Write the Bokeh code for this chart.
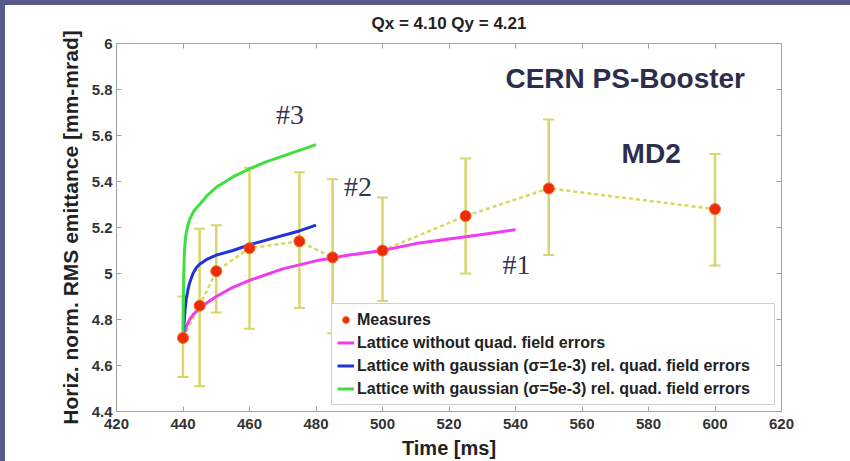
from bokeh.plotting import figure
from bokeh.models import (LinearAxis, FixedTicker, CustomJSTickFormatter, Whisker,
                          ColumnDataSource, Legend, LegendItem, TeeHead, Range1d, Label)
from bokeh.embed import file_html
from bokeh.resources import INLINE

# ---------------- data ----------------
title_text = "Qx = 4.10 Qy = 4.21"
x_ticks = [420, 440, 460, 480, 500, 520, 540, 560, 580, 600, 620]
y_ticks = [4.4, 4.6, 4.8, 5.0, 5.2, 5.4, 5.6, 5.8, 6.0]

meas_t = [440, 445, 450, 460, 475, 485, 500, 525, 550, 600]
meas_y = [4.72, 4.86, 5.01, 5.11, 5.14, 5.07, 5.10, 5.25, 5.37, 5.28]
meas_lo = [4.55, 4.51, 4.83, 4.76, 4.85, 4.74, 4.88, 5.00, 5.08, 5.035]
meas_hi = [4.90, 5.195, 5.21, 5.46, 5.44, 5.41, 5.33, 5.50, 5.67, 5.52]

c1_t = [440, 441, 442, 443, 445, 448, 450, 455, 460, 470, 480, 490, 500, 510, 520, 530, 540]
c1_y = [4.72, 4.77, 4.80, 4.82, 4.85, 4.88, 4.90, 4.94, 4.97, 5.02, 5.055, 5.08, 5.10, 5.13, 5.15, 5.17, 5.19]

c2_t = [440, 440.3, 440.6, 441, 441.5, 442, 443, 444, 445, 447, 450, 455, 460, 465, 470, 475, 480]
c2_y = [4.70, 4.78, 4.84, 4.89, 4.93, 4.96, 5.00, 5.025, 5.04, 5.06, 5.08, 5.10, 5.125, 5.145, 5.165, 5.185, 5.21]

c3_t = [440, 440.1, 440.2, 440.35, 440.5, 440.75, 441, 441.5, 442, 443, 444, 445, 447, 450, 455, 460, 465, 470, 475, 480]
c3_y = [4.72, 4.88, 4.98, 5.06, 5.11, 5.155, 5.18, 5.21, 5.235, 5.265, 5.285, 5.30, 5.335, 5.375, 5.42, 5.455, 5.485, 5.51, 5.535, 5.56]

legend_labels = [
    "Measures",
    "Lattice without quad. field errors",
    "Lattice with gaussian (\u03c3=1e-3) rel. quad. field errors",
    "Lattice with gaussian (\u03c3=5e-3) rel. quad. field errors",
]

# ---------------- figure ----------------
FONT = "Liberation Sans"
p = figure(width=850, height=461, output_backend="svg", toolbar_location=None,
           x_range=Range1d(420, 620), y_range=Range1d(4.4, 6.0),
           min_border_left=116, min_border_right=69, min_border_top=42, min_border_bottom=49,
           x_axis_label="Time [ms]", y_axis_label="Horiz. norm. RMS emittance [mm-mrad]",
           title=title_text)
# purple slide frame on the left and top edges, shown through a transparent border fill
p.styles = {"box-shadow": "inset 5px 5px 0 0 #5a5a8a", "background-color": "white"}
p.background_fill_color = "white"
p.border_fill_color = None
p.outline_line_color = "#a0a0a0"
p.grid.visible = False

p.title.align = "center"
p.title.text_font = FONT
p.title.text_font_size = "17px"
p.title.text_font_style = "bold"
p.title.text_color = "#222222"
p.title.standoff = 22

fmt = CustomJSTickFormatter(code="return String(+tick.toFixed(2));")
for ax in (p.xaxis[0], p.yaxis[0]):
    ax.axis_line_color = "#a0a0a0"
    ax.major_tick_line_color = "#a0a0a0"
    ax.major_tick_in = 5
    ax.major_tick_out = 0
    ax.minor_tick_line_color = None
    ax.major_label_text_font = FONT
    ax.major_label_text_font_style = "bold"
    ax.major_label_text_font_size = "15px"
    ax.major_label_text_color = "#333333"
    ax.axis_label_text_font = FONT
    ax.axis_label_text_font_style = "bold"
    ax.axis_label_text_font_size = "20px"
    ax.axis_label_text_color = "#222222"
    ax.major_label_standoff = 4
    ax.axis_label_standoff = 3
p.xaxis[0].ticker = FixedTicker(ticks=x_ticks)
p.yaxis[0].ticker = FixedTicker(ticks=y_ticks)
p.yaxis[0].formatter = fmt
p.yaxis[0].axis_label_text_font_size = "21px"
p.yaxis[0].axis_label_standoff = 7
p.xaxis[0].major_label_standoff = 7
p.xaxis[0].axis_label_standoff = 5

for loc, tk in (("right", y_ticks), ("above", x_ticks)):
    ax = LinearAxis(ticker=FixedTicker(ticks=tk), major_label_text_color=None,
                    major_label_text_font_size="1px", axis_line_color="#a0a0a0",
                    major_tick_line_color="#a0a0a0", major_tick_in=5, major_tick_out=0,
                    minor_tick_line_color=None)
    p.add_layout(ax, loc)

# error bars
src = ColumnDataSource(dict(t=meas_t, y=meas_y, lo=meas_lo, hi=meas_hi))
err_col = "#d6d66a"
wh = Whisker(source=src, base="t", lower="lo", upper="hi", level="underlay",
             line_color=err_col, line_width=2.5,
             upper_head=TeeHead(size=11, line_color=err_col, line_width=2),
             lower_head=TeeHead(size=11, line_color=err_col, line_width=2))
p.add_layout(wh)

p.line("t", "y", source=src, line_color="#d8d860", line_width=2.5, line_dash="4 3")

r1 = p.line(c1_t, c1_y, line_color="#f03cf0", line_width=3)
r2 = p.line(c2_t, c2_y, line_color="#2233dd", line_width=3)
r3 = p.line(c3_t, c3_y, line_color="#3ee03e", line_width=3)

rm = p.scatter("t", "y", source=src, size=11, fill_color="#ea2c08", line_color="#f26a20",
               line_width=1)

legend = Legend(items=[LegendItem(label=legend_labels[0], renderers=[rm]),
                       LegendItem(label=legend_labels[1], renderers=[r1]),
                       LegendItem(label=legend_labels[2], renderers=[r2]),
                       LegendItem(label=legend_labels[3], renderers=[r3])],
                location="bottom_right", margin=6, padding=5, spacing=2,
                glyph_width=17, glyph_height=21, label_height=21, label_standoff=3,
                label_width=412,
                label_text_font=FONT, label_text_font_style="bold",
                label_text_font_size="16px", label_text_color="#222222",
                border_line_color="#a0a0a0", background_fill_alpha=1.0)
p.add_layout(legend)

txt_col = "#34344f"
for x, y, s in ((472.2, 5.69, "#3"), (492.6, 5.38, "#2"), (540.3, 5.04, "#1")):
    p.add_layout(Label(x=x, y=y, text=s, text_font="Liberation Serif", text_font_size="28px",
                       text_color=txt_col, text_align="center", text_baseline="middle"))
p.add_layout(Label(x=573, y=5.85, text="CERN PS-Booster", text_font=FONT, text_font_size="28px",
                   text_font_style="bold", text_color="#2d2d4d", text_align="center",
                   text_baseline="middle"))
p.add_layout(Label(x=580.8, y=5.52, text="MD2", text_font=FONT, text_font_size="28px",
                   text_font_style="bold", text_color="#2d2d4d", text_align="center",
                   text_baseline="middle"))

open("out.html", "w").write(file_html(p, INLINE))
